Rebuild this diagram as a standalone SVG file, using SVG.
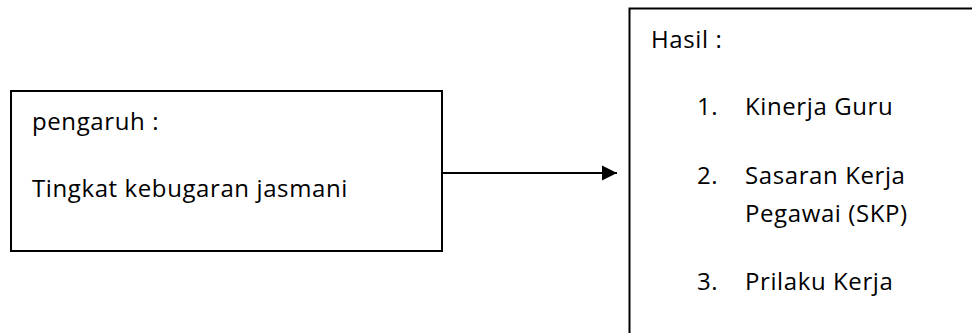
<svg xmlns="http://www.w3.org/2000/svg" width="972" height="333" viewBox="0 0 972 333">
  <defs>
    <style>
      .box { fill: #ffffff; stroke: #000000; stroke-width: 2; }
      .lbl { font-family: "Open Sans", "Noto Sans", "Liberation Sans", sans-serif; font-size: 24px; letter-spacing: 0.6px; fill: #000000; }
      .edge { stroke: #000000; stroke-width: 2; fill: none; }
    </style>
    <marker id="arrowhead" markerWidth="16" markerHeight="16" refX="15" refY="8" orient="auto" markerUnits="userSpaceOnUse">
      <path d="M0,0.5 L15,8 L0,15.5 Z" fill="#000000"/>
    </marker>
  </defs>
  <rect width="972" height="333" fill="#ffffff"/>

  <!-- source: fitness level -->
  <g id="node-pengaruh">
    <rect class="box" x="11" y="91" width="431" height="160"/>
    <text class="lbl" x="32" y="130">pengaruh :</text>
    <text class="lbl" x="32" y="197">Tingkat kebugaran jasmani</text>
  </g>

  <!-- target: outcomes, running off the bottom and right edges -->
  <g id="node-hasil">
    <path class="box" d="M629.5,345 L629.5,8.5 L990,8.5"/>
    <text class="lbl" x="651" y="48">Hasil :</text>
    <text class="lbl" x="697" y="115">1.</text>
    <text class="lbl" x="745" y="115">Kinerja Guru</text>
    <text class="lbl" x="697" y="184">2.</text>
    <text class="lbl" x="745" y="184">Sasaran Kerja</text>
    <text class="lbl" x="745" y="222">Pegawai (SKP)</text>
    <text class="lbl" x="697" y="290">3.</text>
    <text class="lbl" x="745" y="290">Prilaku Kerja</text>
  </g>

  <g id="connectors">
    <line class="edge" x1="442" y1="173" x2="617" y2="173" marker-end="url(#arrowhead)"/>
  </g>
</svg>
